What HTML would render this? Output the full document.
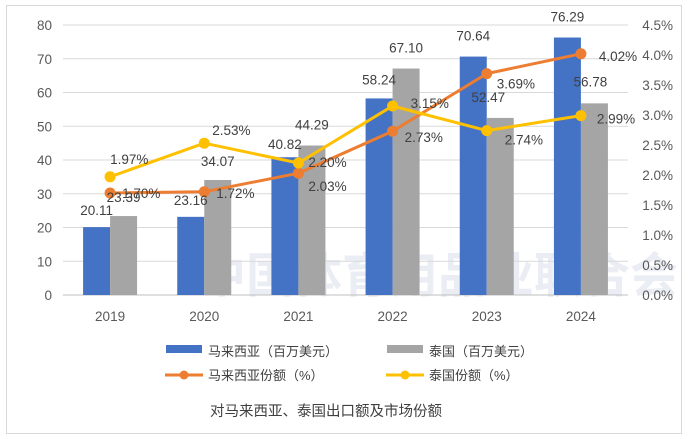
<!DOCTYPE html>
<html><head><meta charset="utf-8">
<style>
body{margin:0;background:#fff;}
svg{display:block;font-family:"Liberation Sans","Noto Sans CJK SC",sans-serif;}
</style></head>
<body>
<svg id="chart" width="688" height="439" viewBox="0 0 688 439">
<rect x="6.5" y="5.5" width="675" height="428" fill="#fff" stroke="#d9d9d9"/>
<g opacity="0.16">
<text x="198" y="292" font-size="48" font-weight="bold" fill="#7f93b8">中国体育用品业联合会</text>
</g>
<g id="grid"></g><g id="bars"></g><g id="lines"></g><g id="labels"></g><g id="axes"></g>
<g id="legend" font-size="13" fill="#404040">
<rect x="166" y="345" width="36" height="8" fill="#4472c4"/>
<text x="208" y="356">马来西亚（百万美元）</text>
<rect x="387" y="345" width="36" height="8" fill="#a5a5a5"/>
<text x="429" y="356">泰国（百万美元）</text>
<line x1="165" y1="375" x2="203" y2="375" stroke="#ed7d31" stroke-width="3"/>
<circle cx="184" cy="375" r="4.5" fill="#ed7d31"/>
<text x="208" y="380">马来西亚份额（%）</text>
<line x1="386" y1="375" x2="424" y2="375" stroke="#ffc000" stroke-width="3"/>
<circle cx="405" cy="375" r="4.5" fill="#ffc000"/>
<text x="429" y="380">泰国份额（%）</text>
</g>
<text x="326" y="416" font-size="14.5" fill="#404040" text-anchor="middle">对马来西亚、泰国出口额及市场份额</text>
</svg>
<script>
const categories=["2019","2020","2021","2022","2023","2024"];
const malaysiaExport=[20.11,23.16,40.82,58.24,70.64,76.29];
const thailandExport=[23.39,34.07,44.29,67.10,52.47,56.78];
const malaysiaShare=[1.70,1.72,2.03,2.73,3.69,4.02];
const thailandShare=[1.97,2.53,2.20,3.15,2.74,2.99];
const leftTicks=[0,10,20,30,40,50,60,70,80];
const rightTicks=[0,0.5,1,1.5,2,2.5,3,3.5,4,4.5];

const NS="http://www.w3.org/2000/svg";
const x0=63,x1=628,y0=295,yTop=25;
const band=(x1-x0)/categories.length;
const xC=i=>x0+band*(i+0.5);
const yL=v=>y0-(v/80)*(y0-yTop);
const yR=v=>y0-(v/4.5)*(y0-yTop);
const bw=27;
function el(tag,attrs,parent){const e=document.createElementNS(NS,tag);for(const k in attrs)e.setAttribute(k,attrs[k]);document.getElementById(parent).appendChild(e);return e;}

leftTicks.forEach(t=>{
  const g=el('line',{x1:x0,x2:x1,y1:yL(t),y2:yL(t),stroke:t===0?'#bfbfbf':'#d9d9d9','stroke-width':1},'grid');
  
  
  const tx=el('text',{x:52,y:yL(t)+5,'text-anchor':'end','font-size':13.5,fill:'#595959'},'axes');
  tx.textContent=t;
  
  
});
rightTicks.forEach(t=>{
  const tx=el('text',{x:673,y:yR(t)+5,'text-anchor':'end','font-size':13.5,fill:'#595959'},'axes');
  tx.textContent=t.toFixed(1)+'%';
  
  
});
categories.forEach((c,i)=>{
  const tx=el('text',{x:xC(i),y:321,'text-anchor':'middle','font-size':13.5,fill:'#595959'},'axes');
  tx.textContent=c;
  
  
  const b1=el('rect',{x:xC(i)-bw,y:yL(malaysiaExport[i]),width:bw,height:y0-yL(malaysiaExport[i]),fill:'#4472c4'},'bars');
  
  
  const b2=el('rect',{x:xC(i),y:yL(thailandExport[i]),width:bw,height:y0-yL(thailandExport[i]),fill:'#a5a5a5'},'bars');
  
  
});
function line(vals,color,name){
  const pts=vals.map((v,i)=>xC(i)+','+yR(v)).join(' ');
  const p=el('polyline',{points:pts,fill:'none',stroke:color,'stroke-width':3,'stroke-linejoin':'round'},'lines');
  
  
  vals.forEach((v,i)=>{
    const c=el('circle',{cx:xC(i),cy:yR(v),r:5.5,fill:color},'lines');
    
    
  });
}
line(malaysiaShare,'#ed7d31','malaysia-share');
line(thailandShare,'#ffc000','thailand-share');

function label(x,y,txt,anchor){
  const t=el('text',{x:x,y:y,'text-anchor':anchor||'middle','font-size':13.5,fill:'#404040'},'labels');
  t.textContent=txt;
  
  
}
const mDy=[-12,-12,-8,-14,-16,-16];
const tDx=[0,0,0,0,-12,-4];
const tDy=[-14,-14,-16,-16,-16,-17];
malaysiaExport.forEach((v,i)=>label(xC(i)-bw/2,yL(v)+mDy[i],v.toFixed(2)));
thailandExport.forEach((v,i)=>label(xC(i)+bw/2+tDx[i],yL(v)+tDy[i],v.toFixed(2)));
const msDx=[12,12,10,12,10,18],msDy=[5,6,18,11,15,7];
malaysiaShare.forEach((v,i)=>label(xC(i)+msDx[i],yR(v)+msDy[i],v.toFixed(2)+'%','start'));
const tsDx=[0,8,10,18,18,16],tsDy=[-13,-8,4,2,14,8];
thailandShare.forEach((v,i)=>label(xC(i)+tsDx[i],yR(v)+tsDy[i],v.toFixed(2)+'%','start'));
</script>
</body></html>
